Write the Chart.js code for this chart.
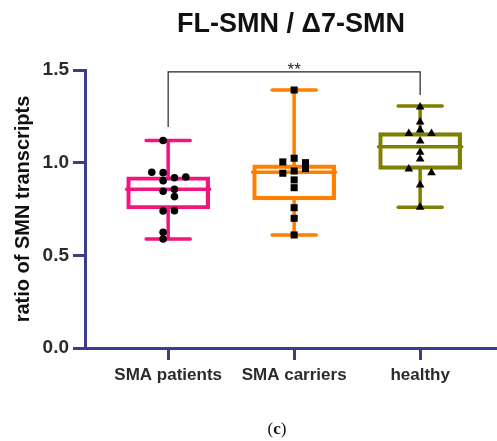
<!DOCTYPE html>
<html>
<head>
<meta charset="utf-8">
<script src="https://cdn.jsdelivr.net/npm/chart.js@4.4.0/dist/chart.umd.min.js"></script>
<style>
  body { margin: 0; background: #fff; }
  #wrap { position: relative; width: 497px; height: 441px; }
  #caption {
    position: absolute; left: 277px; top: 419px; transform: translateX(-50%);
    font-family: "Liberation Serif", "DejaVu Serif", serif; font-size: 17px; color: #111;
  }
</style>
</head>
<body>
<div id="wrap">
  <canvas id="chart"></canvas>
  <div id="caption">(<b>c</b>)</div>
</div>
<script>
var groups = ['SMA patients', 'SMA carriers', 'healthy'];
var yTicks = [0, 0.5, 1.0, 1.5];

// box plot stats
var whiskerLow = [0.588, 0.61, 0.759];
var q1 = [0.75, 0.799, 0.964];
var median = [0.856, 0.948, 1.086];
var q3 = [0.924, 0.988, 1.162];
var whiskerHigh = [1.12, 1.392, 1.306];

// individual samples
var patients = [1.12, 0.948, 0.946, 0.919, 0.923, 0.903, 0.846, 0.856, 0.817, 0.739, 0.741, 0.624, 0.588];
var carriers = [1.392, 1.004, 1.024, 1.0, 0.968, 0.943, 0.955, 0.907, 0.865, 0.757, 0.70, 0.61];
var healthy = [1.30, 1.22, 1.176, 1.158, 1.158, 1.117, 1.056, 1.02, 0.966, 0.946, 0.88, 0.759];

// sideways spread of the dots (category units)
var patientsJitter = [-0.04, -0.13, -0.04, 0.05, 0.14, -0.04, -0.04, 0.05, 0.05, -0.04, 0.05, -0.04, -0.04];
var carriersJitter = [0, -0.09, 0, 0.09, 0.09, -0.09, 0, 0, 0, 0, 0, 0];
var healthyJitter = [0, 0, 0, -0.09, 0.09, 0, 0, 0, -0.09, 0.09, 0, 0];

var sigLabel = '**';

// styling
var navy = '#3b3d8c';
var colors = ['#f0157f', '#ff7f00', '#7f7f00'];
var shapes = ['circle', 'rect', 'triangle'];
var dotSize = [3.8, 5, 5];
var capHalf = 0.175, medianHalf = 0.33;
var bracketTop = 1.49, bracketLeftEnd = 1.193, bracketRightEnd = 1.365;
var font = 'Arial, "Liberation Sans", Helvetica, sans-serif';

var samples = [patients, carriers, healthy];
var jitter = [patientsJitter, carriersJitter, healthyJitter];

var datasets = [];
datasets.push({
  type: 'bar',
  data: groups.map(function (g, i) { return { x: i, y: [q1[i], q3[i]] }; }),
  backgroundColor: 'rgba(0,0,0,0)',
  borderColor: colors,
  borderWidth: 3.5,
  borderSkipped: false,
  barThickness: 83,
  grouped: false,
  order: 3
});

groups.forEach(function (g, i) {
  var gap = { x: i, y: null };
  datasets.push({
    type: 'line',
    data: [
      { x: i - capHalf, y: whiskerHigh[i] }, { x: i + capHalf, y: whiskerHigh[i] }, gap,
      { x: i, y: whiskerHigh[i] }, { x: i, y: q3[i] }, gap,
      { x: i, y: q1[i] }, { x: i, y: whiskerLow[i] }, gap,
      { x: i - capHalf, y: whiskerLow[i] }, { x: i + capHalf, y: whiskerLow[i] }, gap,
      { x: i - medianHalf, y: median[i] }, { x: i + medianHalf, y: median[i] }
    ],
    borderColor: colors[i],
    borderWidth: 3.5,
    borderCapStyle: 'round',
    pointRadius: 0,
    spanGaps: false,
    tension: 0,
    fill: false,
    order: 2
  });
  datasets.push({
    type: 'scatter',
    data: samples[i].map(function (v, k) { return { x: i + jitter[i][k], y: v }; }),
    pointStyle: shapes[i],
    pointRadius: dotSize[i],
    backgroundColor: '#000',
    borderColor: '#000',
    borderWidth: 0,
    order: 0
  });
});

// significance bracket
datasets.push({
  type: 'line',
  data: [{ x: 0, y: bracketLeftEnd }, { x: 0, y: bracketTop }, { x: 2, y: bracketTop }, { x: 2, y: bracketRightEnd }],
  borderColor: '#222',
  borderWidth: 1.2,
  pointRadius: 0,
  tension: 0,
  fill: false,
  order: 1
});

var starsPlugin = {
  id: 'stars',
  afterDatasetsDraw: function (chart) {
    var ctx = chart.ctx;
    ctx.save();
    ctx.font = '17px ' + font;
    ctx.fillStyle = '#222';
    ctx.textAlign = 'center';
    ctx.textBaseline = 'alphabetic';
    ctx.fillText(sigLabel, chart.scales.x.getPixelForValue(1), chart.scales.y.getPixelForValue(bracketTop) + 3);
    ctx.restore();
  }
};

function axisGrid() {
  return { display: true, drawOnChartArea: false, drawTicks: true, tickLength: 12, tickColor: navy, tickWidth: 3, offset: false };
}

new Chart(document.getElementById('chart'), {
  type: 'bar',
  data: { datasets: datasets },
  plugins: [starsPlugin],
  options: {
    responsive: true,
    maintainAspectRatio: false,
    animation: false,
    layout: { padding: 0, autoPadding: false },
    plugins: {
      legend: { display: false },
      tooltip: { enabled: false },
      title: {
        display: true,
        text: 'FL-SMN / Δ7-SMN',
        fullSize: false,
        color: '#111',
        font: { family: font, size: 27, weight: 'bold' },
        padding: { top: 8, bottom: 29.6 }
      }
    },
    scales: {
      x: {
        type: 'linear',
        min: -0.66,
        max: 2.61,
        offset: false,
        afterBuildTicks: function (s) { s.ticks = groups.map(function (g, i) { return { value: i }; }); },
        afterFit: function (s) { s.height = 93; },
        ticks: {
          callback: function (v) { return groups[v]; },
          color: '#2b2b2b',
          font: { family: font, size: 17, weight: 'bold' },
          padding: 5,
          maxRotation: 0,
          autoSkip: false
        },
        grid: axisGrid(),
        border: { display: true, color: navy, width: 3 }
      },
      y: {
        type: 'linear',
        min: 0,
        max: 1.5,
        afterBuildTicks: function (s) { s.ticks = yTicks.map(function (v) { return { value: v }; }); },
        afterFit: function (s) { s.width = 85; },
        ticks: {
          callback: function (v) { return v.toFixed(1); },
          color: '#2b2b2b',
          font: { family: font, size: 19, weight: 'bold' },
          padding: 4
        },
        grid: axisGrid(),
        border: { display: true, color: navy, width: 3 },
        title: {
          display: true,
          text: 'ratio of SMN transcripts',
          color: '#111',
          font: { family: font, size: 20, weight: 'bold' },
          padding: { top: 11, bottom: 0 }
        }
      }
    }
  }
});
</script>
</body>
</html>
